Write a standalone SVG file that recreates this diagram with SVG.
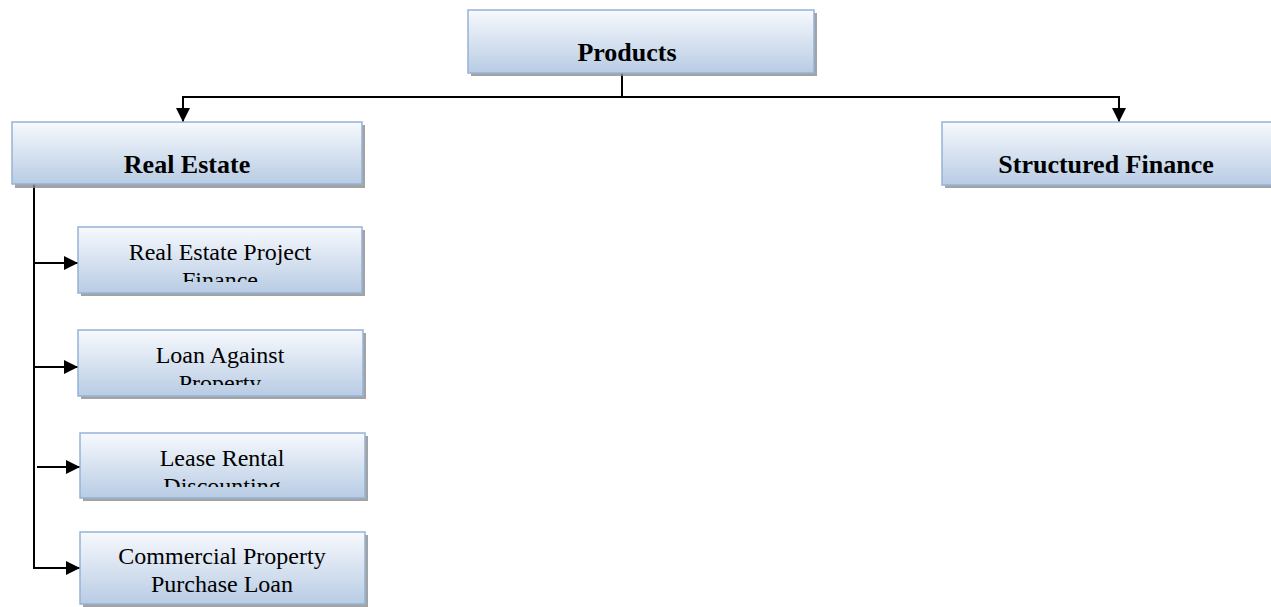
<svg xmlns="http://www.w3.org/2000/svg" width="1271" height="607" viewBox="0 0 1271 607">
<style>
.box{fill:url(#g);stroke:#95b3d7;stroke-width:1.5}
.sh{fill:#8c8c8c;opacity:0.8}
.t{font-family:"Liberation Serif","Times New Roman",serif;fill:#000;text-anchor:middle}
.b{font-size:26px;font-weight:bold}
.r{font-size:24px}
.c{fill:none;stroke:#000;stroke-width:2}
</style>
<defs>
<linearGradient id="g" x1="0" y1="0" x2="0" y2="1">
<stop offset="0" stop-color="#f7f9fd"/>
<stop offset="1" stop-color="#b8cce4"/>
</linearGradient>
<marker id="ah" markerWidth="14" markerHeight="14" refX="14" refY="7" orient="auto" markerUnits="userSpaceOnUse" viewBox="0 0 14 14">
<path d="M0,0 L14,7 L0,14 Z" fill="#000"/>
</marker>
<clipPath id="c1"><rect x="78" y="227" width="284" height="55"/></clipPath>
<clipPath id="c2"><rect x="78" y="330" width="285" height="55"/></clipPath>
<clipPath id="c3"><rect x="80" y="433" width="285" height="54"/></clipPath>
</defs>
<g id="connectors">
<path class="c" d="M622,73 V97"/>
<path class="c" d="M183,97 H1119"/>
<path class="c" d="M183,96 V122" marker-end="url(#ah)"/>
<path class="c" d="M1119,96 V122" marker-end="url(#ah)"/>
<path class="c" d="M34,184 V568"/>
<path class="c" d="M34,263 H78" marker-end="url(#ah)"/>
<path class="c" d="M34,367 H78" marker-end="url(#ah)"/>
<path class="c" d="M37,467 H80" marker-end="url(#ah)"/>
<path class="c" d="M33,568 H80" marker-end="url(#ah)"/>
</g>
<g id="products">
<rect class="sh" x="471" y="13" width="346" height="63"/>
<rect class="box" x="468" y="10" width="346" height="63"/>
<text class="t b" x="627" y="61">Products</text>
</g>
<g id="real-estate">
<rect class="sh" x="15" y="125" width="350" height="63"/>
<rect class="box" x="12" y="122" width="350" height="62"/>
<text class="t b" x="187" y="173">Real Estate</text>
</g>
<g id="structured-finance">
<rect class="sh" x="945" y="125" width="340" height="63"/>
<rect class="box" x="942" y="122" width="340" height="63"/>
<text class="t b" x="1106" y="173">Structured Finance</text>
</g>
<g id="rep-finance">
<rect class="sh" x="81" y="230" width="284" height="66"/>
<rect class="box" x="78" y="227" width="284" height="66"/>
<text class="t r" x="220" y="260" clip-path="url(#c1)">Real Estate Project<tspan x="220" dy="28">Finance</tspan></text>
</g>
<g id="lap">
<rect class="sh" x="81" y="333" width="285" height="66"/>
<rect class="box" x="78" y="330" width="285" height="66"/>
<text class="t r" x="220" y="363" clip-path="url(#c2)">Loan Against<tspan x="220" dy="28">Property</tspan></text>
</g>
<g id="lrd">
<rect class="sh" x="83" y="436" width="285" height="65"/>
<rect class="box" x="80" y="433" width="285" height="65"/>
<text class="t r" x="222" y="466" clip-path="url(#c3)">Lease Rental<tspan x="222" dy="28">Discounting</tspan></text>
</g>
<g id="cppl">
<rect class="sh" x="83" y="535" width="285" height="72"/>
<rect class="box" x="80" y="532" width="285" height="72"/>
<text class="t r" x="222" y="564">Commercial Property<tspan x="222" dy="28">Purchase Loan</tspan></text>
</g>
</svg>
